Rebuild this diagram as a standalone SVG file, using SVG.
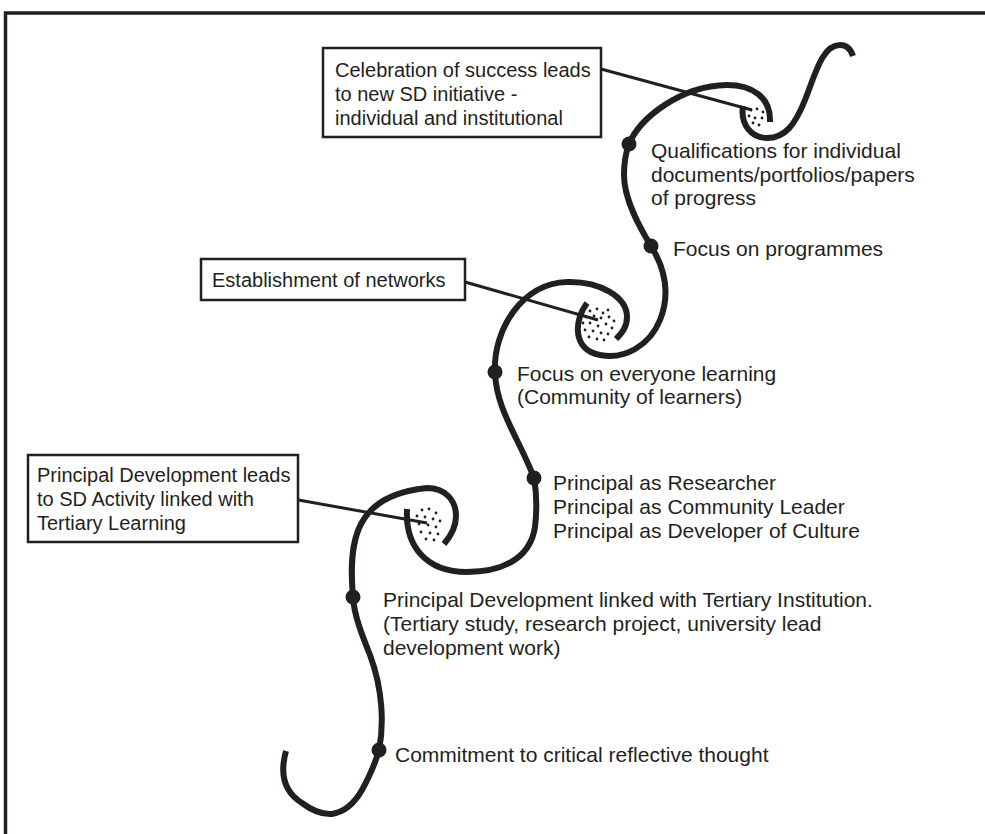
<svg xmlns="http://www.w3.org/2000/svg" width="985" height="834" viewBox="0 0 985 834">
<style>
text{font-family:"Liberation Sans",Arial,Helvetica,sans-serif;fill:#231f20}
.lbl{font-size:21px}
.box{font-size:20px}
.frame{fill:none;stroke:#231f20}
.rbox{fill:#fff;stroke:#231f20;stroke-width:2.5}
.curve{fill:none;stroke:#231f20;stroke-width:6;stroke-linecap:butt}
.conn{fill:none;stroke:#231f20;stroke-width:3}
.dot{fill:#231f20}
.st{fill:#231f20}
</style>
<rect width="985" height="834" fill="#fff"/>
<path class="frame" d="M5.5 834 V13 H985" stroke-width="3.5"/>
<g id="spiral">
<path class="curve" d="M286 751 Q276 787 302 803 Q318 815 332 814 Q350 811 362 790 Q374 768 379 750 C384 725 383 690 370 655 C362 635 354 615 353 597 C348 540 355 495 427 488 C445 488 456 500 456 516 C456 528 450 537 444 544"/>
<path class="curve" d="M407 509 C405 545 425 572 467 572 C500 572 530 560 535 527 C537 510 537 495 534 478 C520 440 496 410 495 372 C493 330 522 283 567 282 C600 281 627 297 627 317 C627 327 622 333 616 339"/>
<path class="curve" d="M587 303 C574 320 572 350 600 355 C625 360 650 345 660 320 C668 300 669 275 651 246 C640 228 624 200 624 175 C624 163 626 152 629 144 C640 118 680 86 727 85 C752 85 771 97 770 122"/>
<path class="curve" d="M743 106 C740 125 752 138 767 138 C785 138 795 125 805 100 C815 75 822 45 840 45 C847 45 851 50 853 56"/>
<g class="st">
<circle cx="751" cy="110" r="1.4"/><circle cx="757" cy="109" r="1.4"/><circle cx="763" cy="112" r="1.4"/><circle cx="749" cy="116" r="1.4"/><circle cx="755" cy="118" r="1.4"/><circle cx="762" cy="118" r="1.4"/><circle cx="753" cy="123" r="1.4"/><circle cx="759" cy="125" r="1.4"/>
<circle cx="590" cy="311" r="1.4"/><circle cx="597" cy="309" r="1.4"/><circle cx="603" cy="313" r="1.4"/><circle cx="608" cy="310" r="1.4"/><circle cx="586" cy="317" r="1.4"/><circle cx="594" cy="316" r="1.4"/><circle cx="601" cy="318" r="1.4"/><circle cx="609" cy="317" r="1.4"/><circle cx="614" cy="321" r="1.4"/><circle cx="583" cy="323" r="1.4"/><circle cx="590" cy="323" r="1.4"/><circle cx="598" cy="326" r="1.4"/><circle cx="606" cy="324" r="1.4"/><circle cx="612" cy="328" r="1.4"/><circle cx="585" cy="330" r="1.4"/><circle cx="593" cy="331" r="1.4"/><circle cx="601" cy="333" r="1.4"/><circle cx="608" cy="334" r="1.4"/><circle cx="589" cy="337" r="1.4"/><circle cx="597" cy="339" r="1.4"/><circle cx="604" cy="340" r="1.4"/>
<circle cx="422" cy="510" r="1.4"/><circle cx="429" cy="509" r="1.4"/><circle cx="436" cy="513" r="1.4"/><circle cx="417" cy="516" r="1.4"/><circle cx="425" cy="517" r="1.4"/><circle cx="433" cy="519" r="1.4"/><circle cx="440" cy="521" r="1.4"/><circle cx="419" cy="524" r="1.4"/><circle cx="428" cy="525" r="1.4"/><circle cx="436" cy="527" r="1.4"/><circle cx="421" cy="532" r="1.4"/><circle cx="430" cy="533" r="1.4"/><circle cx="438" cy="534" r="1.4"/><circle cx="426" cy="539" r="1.4"/><circle cx="434" cy="540" r="1.4"/>
</g>
</g>
<g id="connectors">
<line class="conn" x1="601" y1="69" x2="752" y2="110"/>
<line class="conn" x1="465" y1="282" x2="598" y2="320"/>
<line class="conn" x1="276" y1="496" x2="427" y2="523"/>
</g>
<g id="box-celebration">
<rect class="rbox" x="323" y="48" width="278" height="89"/>
<text class="box" x="335" y="77">Celebration of success leads</text>
<text class="box" x="335" y="101">to new SD initiative -</text>
<text class="box" x="335" y="125">individual and institutional</text>
</g>
<g id="box-networks">
<rect class="rbox" x="201" y="259" width="264" height="41"/>
<text class="box" x="212" y="287">Establishment of networks</text>
</g>
<g id="box-principal">
<rect class="rbox" x="28" y="455" width="270" height="87"/>
<text class="box" x="37" y="482">Principal Development leads</text>
<text class="box" x="37" y="506">to SD Activity linked with</text>
<text class="box" x="37" y="530">Tertiary Learning</text>
</g>
<g id="node-qualifications">
<circle class="dot" cx="629" cy="144" r="7.5"/>
<text class="lbl" x="651" y="158">Qualifications for individual</text>
<text class="lbl" x="651" y="182">documents/portfolios/papers</text>
<text class="lbl" x="651" y="205">of progress</text>
</g>
<g id="node-programmes">
<circle class="dot" cx="651" cy="246" r="7.5"/>
<text class="lbl" x="673" y="256">Focus on programmes</text>
</g>
<g id="node-everyone">
<circle class="dot" cx="495" cy="372" r="7.5"/>
<text class="lbl" x="517" y="381">Focus on everyone learning</text>
<text class="lbl" x="517" y="404">(Community of learners)</text>
</g>
<g id="node-researcher">
<circle class="dot" cx="534" cy="478" r="7.5"/>
<text class="lbl" x="553" y="490">Principal as Researcher</text>
<text class="lbl" x="553" y="514">Principal as Community Leader</text>
<text class="lbl" x="553" y="538">Principal as Developer of Culture</text>
</g>
<g id="node-tertiary">
<circle class="dot" cx="353" cy="597" r="7.5"/>
<text class="lbl" x="383" y="607">Principal Development linked with Tertiary Institution.</text>
<text class="lbl" x="383" y="631">(Tertiary study, research project, university lead</text>
<text class="lbl" x="383" y="655">development work)</text>
</g>
<g id="node-commitment">
<circle class="dot" cx="379" cy="750" r="7.5"/>
<text class="lbl" x="395" y="762">Commitment to critical reflective thought</text>
</g>
</svg>
